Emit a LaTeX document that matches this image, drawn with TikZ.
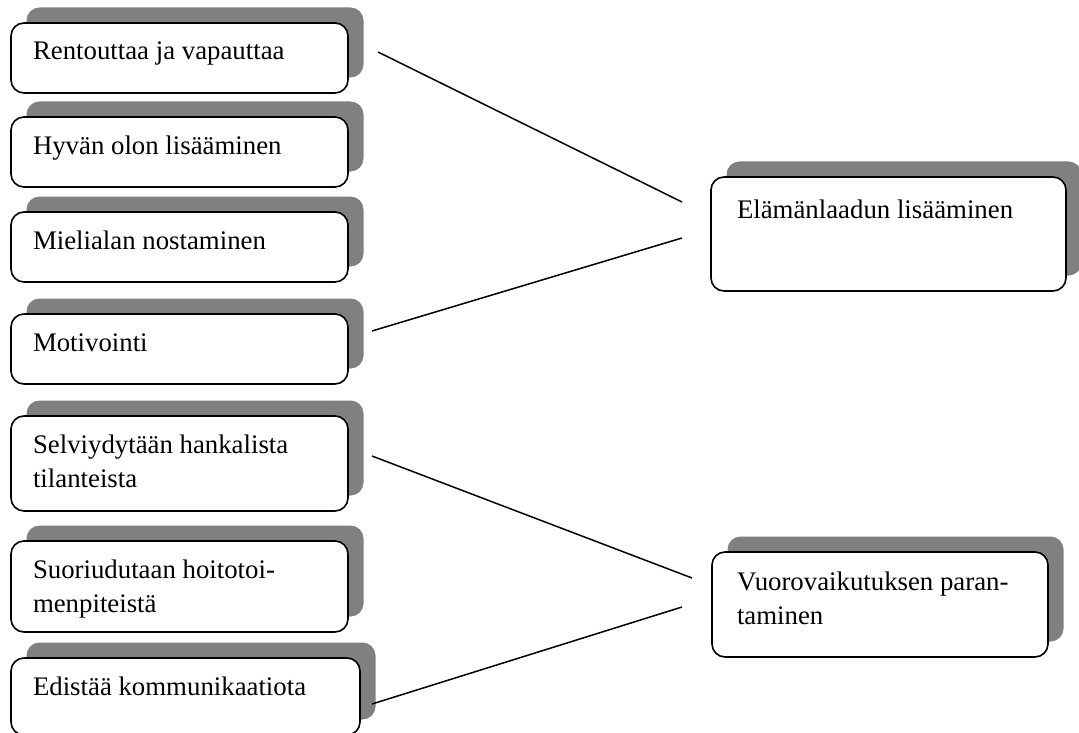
\documentclass[tikz,border=0pt]{standalone}
\usepackage{fontspec}
\setmainfont{Liberation Serif}
\usetikzlibrary{shadows}
\definecolor{shadowgray}{HTML}{808080}
\tikzset{
  boxshape/.style={draw=black, line width=1.6pt, fill=white, rounded corners=13pt,
    anchor=north west, inner sep=0pt, outer sep=0pt,
    drop shadow={shadow xshift=15.5pt, shadow yshift=15.5pt, fill=shadowgray, opacity=1}},
  boxtext/.style={anchor=base west, inner sep=0pt, outer sep=0pt,
    font=\fontsize{26.8pt}{34pt}\selectfont},
  link/.style={draw=black, line width=1.5pt}
}
\newcommand{\twolines}[2]{\parbox[t]{330pt}{\raggedright #1\\#2}}
\begin{document}
\begin{tikzpicture}[x=1pt,y=-1pt]
\useasboundingbox (0,0) rectangle (1079,733);
% left boxes
\node[boxshape, minimum width=337pt, minimum height=70pt] (b1) at (11,23) {};
\node[boxtext] (t1) at ([xshift=22pt,yshift=-37pt]b1.north west) {Rentouttaa ja vapauttaa};
\node[boxshape, minimum width=337pt, minimum height=70pt] (b2) at (11,117) {};
\node[boxtext] (t2) at ([xshift=22pt,yshift=-37pt]b2.north west) {Hyvän olon lisääminen};
\node[boxshape, minimum width=337pt, minimum height=70pt] (b3) at (11,212) {};
\node[boxtext] (t3) at ([xshift=22pt,yshift=-37pt]b3.north west) {Mielialan nostaminen};
\node[boxshape, minimum width=337pt, minimum height=70pt] (b4) at (11,314) {};
\node[boxtext] (t4) at ([xshift=22pt,yshift=-37pt]b4.north west) {Motivointi};
\node[boxshape, minimum width=337pt, minimum height=95pt] (b5) at (11,416) {};
\node[boxtext] (t5) at ([xshift=22pt,yshift=-37pt]b5.north west) {\twolines{Selviydytään hankalista}{tilanteista}};
\node[boxshape, minimum width=337pt, minimum height=91pt] (b6) at (11,541) {};
\node[boxtext] (t6) at ([xshift=22pt,yshift=-37pt]b6.north west) {\twolines{Suoriudutaan hoitotoi-}{menpiteistä}};
\node[boxshape, minimum width=349pt, minimum height=77pt] (b7) at (11,658) {};
\node[boxtext] (t7) at ([xshift=22pt,yshift=-37pt]b7.north west) {Edistää kommunikaatiota};
% right boxes
\node[boxshape, minimum width=355pt, minimum height=114pt] (r1) at (711,177) {};
\node[boxtext] (s1) at ([xshift=26pt,yshift=-41pt]r1.north west) {Elämänlaadun lisääminen};
\node[boxshape, minimum width=336pt, minimum height=105pt] (r2) at (712,552) {};
\node[boxtext] (s2) at ([xshift=25pt,yshift=-38pt]r2.north west) {\twolines{Vuorovaikutuksen paran-}{taminen}};
% connectors
\coordinate (l1a) at (378,52);  \coordinate (l1b) at (682,202);
\coordinate (l2a) at (372,331); \coordinate (l2b) at (682,238);
\coordinate (l3a) at (372,456); \coordinate (l3b) at (692,578);
\coordinate (l4a) at (372,704); \coordinate (l4b) at (682,607);
\draw[link] (l1a) -- (l1b);
\draw[link] (l2a) -- (l2b);
\draw[link] (l3a) -- (l3b);
\draw[link] (l4a) -- (l4b);
\end{tikzpicture}
\end{document}
